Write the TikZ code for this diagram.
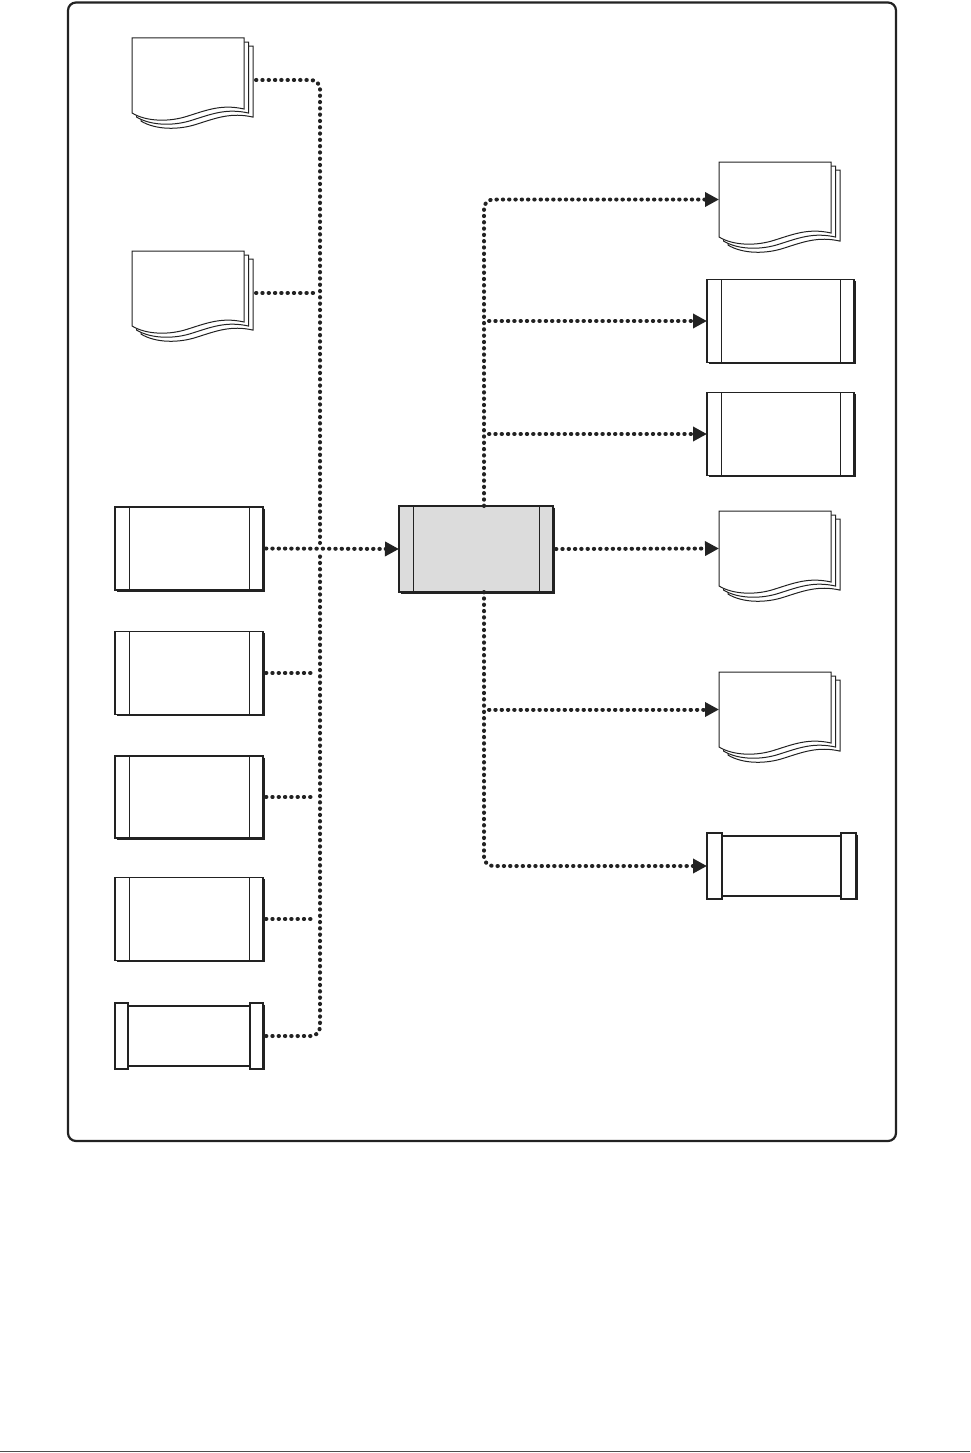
\documentclass[tikz,border=0pt]{standalone}
\usetikzlibrary{arrows.meta,calc}
\definecolor{ink}{HTML}{222222}
\definecolor{cfill}{HTML}{DCDCDC}
\tikzset{
  shapeline/.style={draw=ink, line width=1.3pt},
  thinline/.style={draw=ink, line width=1pt},
  anchorbox/.style={inner sep=0pt, outer sep=0pt, draw=none},
  pbox/.style={draw=ink, line width=1.3pt, inner sep=0pt, outer sep=0pt},
  shadowline/.style={draw=ink, line width=1.2pt},
  bus/.style={draw=ink, line width=4pt, line cap=round, dash pattern=on 0.4pt off 5.9pt},
  tip/.style={-{Triangle[length=14pt,width=14pt]}}
}
% predefined process box: [fill]{name}{cx}{cy}{w}{h}
\newcommand\predefbox[6][white]{%
  \node[pbox, fill=#1, minimum width=#5pt, minimum height=#6pt] (#2) at (#3,#4) {};
  \draw[thinline] ($(#2.north west)+(14,0)$) -- ($(#2.south west)+(14,0)$);
  \draw[thinline] ($(#2.north east)+(-14,0)$) -- ($(#2.south east)+(-14,0)$);
  \draw[shadowline] ($(#2.north east)+(1.2,1.5)$) -- ($(#2.south east)+(1.2,1.2)$) -- ($(#2.south west)+(1.5,1.2)$);
}
% end-capped box: {name}{cx}{cy}{w}{h}{capw}
\newcommand\capbox[6]{%
  \node[anchorbox, minimum width=#4pt, minimum height=#5pt] (#1) at (#2,#3) {};
  \draw[shapeline, fill=white] ($(#1.north west)+(#6,3)$) rectangle ($(#1.south east)+(-#6,-3)$);
  \draw[shapeline, fill=white] (#1.north west) rectangle ($(#1.south west)+(#6,0)$);
  \draw[shapeline, fill=white] ($(#1.north east)+(-#6,0)$) rectangle (#1.south east);
  \draw[shadowline] ($(#1.north east)+(1.2,1.5)$) -- ($(#1.south east)+(1.2,1.2)$);
}
% multi-document stack: {name}{x}{y} top-left of front page
\newcommand\docstack[3]{%
  \begin{scope}[shift={(#2,#3)}]
    \foreach \s in {9,4.5,0}{%
      \draw[thinline, fill=white] (\s,0.9*\s) -- ++(112,0) -- ++(0,71)
        .. controls +(-22,-5) and +(19,-6) .. ++(-56,7)
        .. controls +(-18,6) and +(15,9) .. ++(-56,-3) -- cycle;
    }
    \node[anchorbox, minimum width=112pt, minimum height=75pt] (#1) at (56,37.5) {};
  \end{scope}
}
\begin{document}
\begin{tikzpicture}[x=1pt,y=-1pt]
\useasboundingbox (0,0) rectangle (970,1453);
% outer frame
\draw[draw=ink, line width=2.2pt, rounded corners=8] (68,2.5) rectangle (896,1141);
% bottom rule
\draw[draw=ink!80, line width=1.5pt] (0,1451.5) -- (970,1451.5);

% left documents
\docstack{L1}{132}{38}
\docstack{L2}{132}{251}
% left process boxes
\predefbox{B1}{189}{548.5}{148}{83}
\predefbox{B2}{189}{673}{148}{83}
\predefbox{B3}{189}{797}{148}{82}
\predefbox{B4}{189}{919}{148}{83}
\capbox{B5}{189}{1036}{148}{66}{13}

% center
\predefbox[cfill]{C}{476}{549}{154}{86}

% right side
\docstack{R1}{719}{162}
\predefbox{R2}{780.5}{321}{147}{83}
\predefbox{R3}{780.5}{434}{147}{83}
\docstack{R4}{719}{511}
\docstack{R5}{719}{672}
\capbox{R6}{781.5}{866}{149}{66}{15}

% junction coordinates
\coordinate (J1) at (320,543);
\coordinate (J2) at (320,555);
\coordinate (K1) at ($(C.north)+(8,0)$);
\coordinate (K2) at ($(C.south)+(8,0)$);
\coordinate (L1o) at ($(L1.east)+(12,4.5)$);
\coordinate (L2o) at ($(L2.east)+(12,4.5)$);

% left connectors
\draw[bus, rounded corners=9] (L1o) -| (J1);
\draw[bus, rounded corners=9] ($(B5.east)+(3,0)$) -| (J2);
\draw[bus] (L2o) -- ($(L2o -| J1)+(-5,0)$);
\draw[bus, tip] ($(B1.east)+(3,0)$) -- (C.west);
\draw[bus] ($(B2.east)+(3,0)$) -- ($(B2.east -| J1)+(-5,0)$);
\draw[bus] ($(B3.east)+(3,0)$) -- ($(B3.east -| J1)+(-5,0)$);
\draw[bus] ($(B4.east)+(3,0)$) -- ($(B4.east -| J1)+(-5,0)$);

% right connectors
\draw[bus, tip, rounded corners=9] (K1) |- (R1.west);
\draw[bus, tip] ($(R2.west -| K1)+(5,0)$) -- (R2.west);
\draw[bus, tip] ($(R3.west -| K1)+(5,0)$) -- (R3.west);
\draw[bus, tip] ($(C.east)+(3,0)$) -- (R4.west);
\draw[bus, tip] ($(R5.west -| K2)+(5,0)$) -- (R5.west);
\draw[bus, tip, rounded corners=9] (K2) |- (R6.west);
\end{tikzpicture}
\end{document}
